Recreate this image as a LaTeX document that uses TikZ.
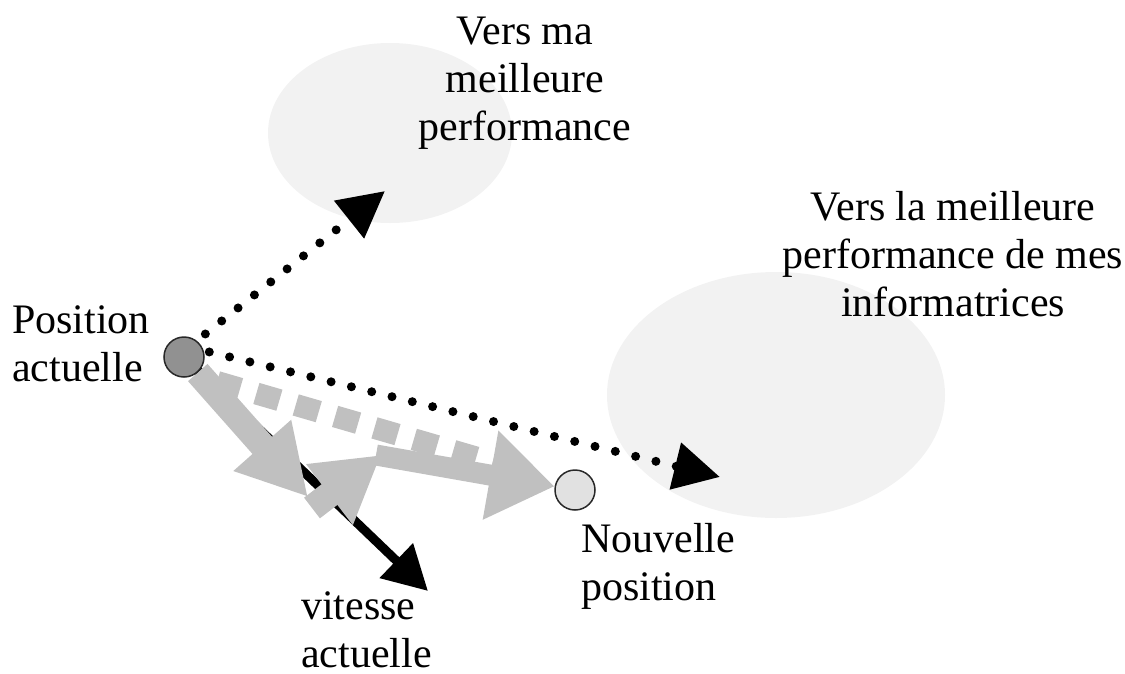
\documentclass[tikz,border=0pt]{standalone}
\usepackage{fontspec}
\setmainfont{Liberation Serif}
\usetikzlibrary{arrows.meta}
\pgfdeclarelayer{zones}
\pgfdeclarelayer{links}
\pgfsetlayers{zones,links,main}
\definecolor{haze}{RGB}{242,242,242}
\definecolor{pale}{RGB}{192,192,192}
\definecolor{olddot}{RGB}{145,145,145}
\definecolor{newdot}{RGB}{225,225,225}
\definecolor{rim}{RGB}{40,40,40}
\begin{document}
\begin{tikzpicture}[x=1pt,y=-1pt,
  txt/.style={font=\fontsize{42}{48}\selectfont, inner sep=0pt},
  zone/.style={fill=haze},
  spot/.style={circle, draw=rim, line width=1.5pt, minimum size=40pt, inner sep=0pt},
  dotline/.style={line width=9pt, line cap=round, dash pattern=on 0pt off 20.9pt,
    -{Triangle[length=46pt,width=46pt]}},
  speed/.style={line width=9pt, -{Triangle[length=44pt,width=46pt]}},
  move/.style={pale, line width=26pt},
  moveend/.style={pale, line width=21pt, -{Triangle[length=65pt,width=86pt]}},
  ghost/.style={pale, line width=22pt, dash pattern=on 24pt off 17pt}
]
\useasboundingbox (0,0) rectangle (1125,673);

% target regions
\begin{pgfonlayer}{zones}
  \fill[zone] (390,133) ellipse [x radius=122pt, y radius=90pt];
  \fill[zone] (776,395) ellipse [x radius=169pt, y radius=123pt];
\end{pgfonlayer}

% particle positions
\node[spot, fill=olddot] (P) at (184,357) {};
\node[spot, fill=newdot] (N) at (575,490) {};

% labels (base anchor = baseline of the last line)
\node[txt, align=center, anchor=base] (pbest) at (525,140) {Vers ma\\meilleure\\performance};
\node[txt, align=center, anchor=base] (gbest) at (953,316) {Vers la meilleure\\performance de mes\\informatrices};
\node[txt, align=left, anchor=base west] (pos) at (12,381) {Position\\actuelle};
\node[txt, align=left, anchor=base west] (npos) at (581,600) {Nouvelle\\position};
\node[txt, align=left, anchor=base west] (vel) at (301,667) {vitesse\\actuelle};

% construction points
\coordinate (o) at (189,347);
\coordinate (pt) at (385,191);
\coordinate (gt) at (720,477);
\coordinate (vt) at (428,591);
\coordinate (i1) at (308,497);
\coordinate (c0) at (312,508);
\coordinate (c1) at (381,455);
\coordinate (s0) at (376,455);
\coordinate (d0) at (217,382);
\coordinate (d1) at (495,463);

\begin{pgfonlayer}{links}
  % current velocity
  \draw[speed] (P.center) -- (vt);
  % inertia, cognitive and social moves
  \draw[move, -{Triangle[length=69pt,width=72pt]}] (P) -- (i1);
  \draw[move, -{Triangle[length=65pt,width=72pt]}] (c0) -- (c1);
  \draw[ghost] (d0) -- (d1);
  \draw[moveend] (s0) -- (N);
  % pulls towards the best positions
  \draw[dotline] (o) -- (pt);
  \draw[dotline] (o) -- (gt);
\end{pgfonlayer}
\end{tikzpicture}
\end{document}
